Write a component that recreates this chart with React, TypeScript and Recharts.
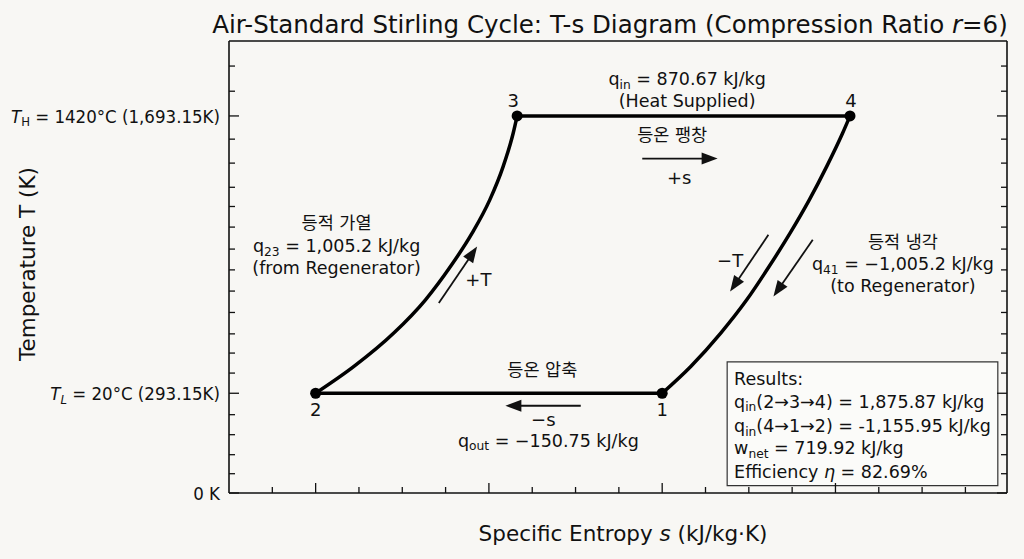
import React from "react";
import {
  ComposedChart,
  Line,
  Scatter,
  XAxis,
  YAxis,
  ReferenceDot,
  ReferenceLine,
  ReferenceArea,
  Label,
} from "recharts";

const FONT = "'DejaVu Sans', 'Noto Sans CJK KR', sans-serif";
const FONT_NARROW = "'DejaVu Sans Condensed', 'DejaVu Sans', sans-serif";
const INK = "#111";
const PAPER = "#f8f7f4";

// state points (s in schematic units, T in K)
const pointLabels = ["1", "2", "3", "4"];
const pointS = [2.0, 0, 1.163, 3.084];
const pointT = [293.15, 293.15, 1693.15, 1693.15];

// 2 -> 3 constant-volume heating
const heatS = [0, 0.221, 0.451, 0.634, 0.778, 0.903, 1.005, 1.082, 1.14, 1.163];
const heatT = [293.15, 428.3, 596.8, 764.8, 932.8, 1101.3, 1269.4, 1437.4, 1605.9, 1693.15];

// 4 -> 1 constant-volume cooling (listed by rising s)
const coolS = [2.0, 2.165, 2.338, 2.488, 2.617, 2.738, 2.849, 2.949, 3.041, 3.084];
const coolT = [293.15, 428.3, 596.8, 764.8, 932.8, 1101.3, 1269.4, 1437.4, 1605.9, 1693.15];

// isotherms
const expandS = [1.163, 3.084];
const expandT = [1693.15, 1693.15];
const compressS = [0, 2.0];
const compressT = [293.15, 293.15];

// axis ticks
const xDomain = [-0.5, 3.99];
const yDomain = [-210.4, 2071.5];
const bottomTicks = [-0.25, 0, 0.25, 0.5, 0.75, 1, 1.25, 1.5, 1.75, 2, 2.25, 2.5, 2.75, 3, 3.25, 3.5, 3.75];
const bottomMajor = [0, 1, 2, 3];
const topTicks = [-0.294, -0.092, 0.01, 0.133, 0.242, 0.346, 0.524, 0.703, 0.836, 0.939, 1.024, 1.249, 1.466, 1.677, 1.896, 2.238, 2.45, 2.651, 2.863, 3.08, 3.33, 3.56, 3.775];
const topMajor = [0.133, 1.024, 2.238, 3.08];
const sideTicks = [-210.4, -113, -17, 84, 185, 293.15, 395, 496, 593, 701, 809, 916, 1021, 1132, 1236, 1333, 1455, 1576, 1693.15, 1818, 1945];
const sideMajor = [-210.4, 293.15, 1693.15];
const yLabelValues = [1693.15, 293.15, -210.4];
const yLabelTexts = ["$T$_{H} = 1420°C (1,693.15K)", "$T$_{~L} = 20°C (293.15K)", "0 K"];

// annotations
const noteS = [2.144, 2.144, 2.058, 2.098, 0.121, 0.121, 0.121, 0.939, 3.389, 3.389, 3.389, 2.392, 1.308, 1.314, 1.343];
const noteT = [1880, 1771, 1597.3, 1380.3, 1151.8, 1037.3, 927.8, 865.7, 1057.5, 946.5, 835.5, 961.6, 411.7, 163, 55];
const noteTexts = [
  "q_{in} = 870.67 kJ/kg",
  "(Heat Supplied)",
  "등온 팽창",
  "+s",
  "등적 가열",
  "q_{23} = 1,005.2 kJ/kg",
  "(from Regenerator)",
  "+T",
  "등적 냉각",
  "q_{41} = −1,005.2 kJ/kg",
  "(to Regenerator)",
  "−T",
  "등온 압축",
  "−s",
  "q_{out} = −150.75 kJ/kg",
];

// direction arrows: [s0, T0, s1, T1]
const arrows = [
  [1.885, 1477.7, 2.32, 1477.7],
  [0.711, 748.2, 0.932, 1033.7],
  [2.613, 1092.8, 2.392, 806.7],
  [2.869, 1067.6, 2.642, 781.5],
  [1.53, 230, 1.095, 230],
];

// results box
const resultBox = [2.375, 3.937, -173.6, 452];
const resultS = 2.415;
const resultT = [366.3, 251.8, 129, 16.6, -101.4];
const resultLines = [
  "Results:",
  "q_{in}(2→3→4) = 1,875.87 kJ/kg",
  "q_{in}(4→1→2) = -1,155.95 kJ/kg",
  "w_{net} = 719.92 kJ/kg",
  "Efficiency $η$ = 82.69%",
];

const zipST = (s: number[], t: number[]) => s.map((v, i) => ({ s: v, T: t[i] }));
const heatData = zipST(heatS, heatT);
const coolData = zipST(coolS, coolT);
const expandData = zipST(expandS, expandT);
const compressData = zipST(compressS, compressT);
const stateData = pointS.map((v, i) => ({ s: v, T: pointT[i], label: pointLabels[i] }));

// label offsets for state points 1..4
const labelDx = [0, 0, -4, 1];
const labelDy = [23, 23, -9, -9];

// "_{x}" subscript, "_{~x}" italic subscript, "$x$" italic
function rich(src: string, fs: number) {
  const out: React.ReactNode[] = [];
  const re = /_\{([^}]*)\}|\$([^$]*)\$|([^_$]+)/g;
  let m: RegExpExecArray | null;
  let k = 0;
  let shifted = false;
  const drop = fs * 0.2;
  while ((m = re.exec(src))) {
    if (m[1] !== undefined) {
      const it = m[1].startsWith("~");
      out.push(
        <tspan key={k++} fontSize={fs * 0.7} dy={drop} fontStyle={it ? "italic" : undefined}>
          {it ? m[1].slice(1) : m[1]}
        </tspan>
      );
      shifted = true;
    } else {
      const it = m[2] !== undefined;
      out.push(
        <tspan key={k++} dy={shifted ? -drop : undefined} fontStyle={it ? "italic" : undefined}>
          {it ? m[2] : m[3]}
        </tspan>
      );
      shifted = false;
    }
  }
  return out;
}

function Txt({ x, y, text, fs = 17.5, anchor = "middle", family = FONT }: any) {
  return (
    <text x={x} y={y + fs * 0.36} textAnchor={anchor} fontSize={fs} fontFamily={family} fill={INK}>
      {rich(text, fs)}
    </text>
  );
}

const LeftTick = (p: any) => {
  const v = p.payload.value;
  const len = sideMajor.includes(v) ? 10 : 6;
  const li = yLabelValues.indexOf(v);
  return (
    <g>
      <line x1={p.x} y1={p.y} x2={p.x + len} y2={p.y} stroke={INK} strokeWidth={1.3} />
      {li >= 0 && <Txt x={p.x - 9} y={p.y} text={yLabelTexts[li]} fs={18.5} anchor="end" family={FONT_NARROW} />}
    </g>
  );
};

const RightTick = (p: any) => {
  const len = sideMajor.includes(p.payload.value) ? 10 : 6;
  return <line x1={p.x} y1={p.y} x2={p.x - len} y2={p.y} stroke={INK} strokeWidth={1.3} />;
};

const BottomTick = (p: any) => {
  const len = bottomMajor.includes(p.payload.value) ? 10 : 6;
  return <line x1={p.x} y1={p.y} x2={p.x} y2={p.y - len} stroke={INK} strokeWidth={1.3} />;
};

const TopTick = (p: any) => {
  const len = topMajor.includes(p.payload.value) ? 10 : 6;
  return <line x1={p.x} y1={p.y} x2={p.x} y2={p.y + len} stroke={INK} strokeWidth={1.3} />;
};

const ArrowShape = (p: any) => {
  const { x1, y1, x2, y2 } = p;
  const dx = x2 - x1;
  const dy = y2 - y1;
  const len = Math.hypot(dx, dy) || 1;
  const ux = dx / len;
  const uy = dy / len;
  const hl = 16;
  const hw = 6;
  const bx = x2 - ux * hl;
  const by = y2 - uy * hl;
  return (
    <g>
      <line x1={x1} y1={y1} x2={bx + ux * 2} y2={by + uy * 2} stroke={INK} strokeWidth={1.8} />
      <polygon points={`${x2},${y2} ${bx - uy * hw},${by + ux * hw} ${bx + uy * hw},${by - ux * hw}`} fill={INK} />
    </g>
  );
};

const StateDot = (p: any) => {
  const i = pointLabels.indexOf(p.payload.label);
  return (
    <g>
      <circle cx={p.cx} cy={p.cy} r={5.5} fill="#000" />
      <text x={p.cx + labelDx[i]} y={p.cy + labelDy[i]} textAnchor="middle" fontSize={18} fontFamily={FONT} fill={INK}>
        {p.payload.label}
      </text>
    </g>
  );
};

const axisLine = { stroke: INK, strokeWidth: 1.6 };

export default function App() {
  return (
    <div style={{ position: "fixed", left: 0, top: 0, width: 1024, height: 559, background: PAPER }}>
      <ComposedChart width={1024} height={559} margin={{ top: 40, right: 16, bottom: 65, left: 228 }}>
        <XAxis
          type="number"
          dataKey="s"
          domain={xDomain}
          allowDataOverflow
          ticks={bottomTicks}
          interval={0}
          tickSize={0}
          tickMargin={0}
          tick={BottomTick}
          height={1}
          axisLine={axisLine}
        >
          <Label
            content={(lp: any) => (
              <Txt
                x={lp.viewBox.x + lp.viewBox.width / 2 + 5}
                y={lp.viewBox.y + 40}
                text="Specific Entropy $s$ (kJ/kg·K)"
                fs={21.5}
              />
            )}
          />
        </XAxis>
        <XAxis
          xAxisId="top"
          orientation="top"
          type="number"
          domain={xDomain}
          allowDataOverflow
          ticks={topTicks}
          interval={0}
          tickSize={0}
          tickMargin={0}
          tick={TopTick}
          height={1}
          axisLine={axisLine}
        >
          <Label
            content={(lp: any) => (
              <Txt
                x={lp.viewBox.x + lp.viewBox.width / 2 - 8}
                y={lp.viewBox.y - 16}
                text="Air-Standard Stirling Cycle: T-s Diagram (Compression Ratio $r$=6)"
                fs={24.5}
              />
            )}
          />
        </XAxis>
        <YAxis
          type="number"
          dataKey="T"
          domain={yDomain}
          allowDataOverflow
          ticks={sideTicks}
          interval={0}
          tickSize={0}
          tickMargin={0}
          tick={LeftTick}
          width={1}
          axisLine={axisLine}
        >
          <Label
            content={(lp: any) => {
              const cx = lp.viewBox.x - 201;
              const cy = lp.viewBox.y + lp.viewBox.height / 2 - 3;
              return (
                <g transform={`rotate(-90, ${cx}, ${cy})`}>
                  <Txt x={cx} y={cy} text="Temperature T (K)" fs={21.5} />
                </g>
              );
            }}
          />
        </YAxis>
        <YAxis
          yAxisId="right"
          orientation="right"
          type="number"
          domain={yDomain}
          allowDataOverflow
          ticks={sideTicks}
          interval={0}
          tickSize={0}
          tickMargin={0}
          tick={RightTick}
          width={1}
          axisLine={axisLine}
        />

        <ReferenceArea
          x1={resultBox[0]}
          x2={resultBox[1]}
          y1={resultBox[2]}
          y2={resultBox[3]}
          fill="#fbfbf9"
          fillOpacity={1}
          stroke="#333"
          strokeWidth={1.2}
        />

        <Line data={compressData} dataKey="T" type="linear" stroke="#000" strokeWidth={3.5} dot={false} activeDot={false} isAnimationActive={false} />
        <Line data={heatData} dataKey="T" type="monotone" stroke="#000" strokeWidth={3.5} dot={false} activeDot={false} isAnimationActive={false} />
        <Line data={expandData} dataKey="T" type="linear" stroke="#000" strokeWidth={3.5} dot={false} activeDot={false} isAnimationActive={false} />
        <Line data={coolData} dataKey="T" type="monotone" stroke="#000" strokeWidth={3.5} dot={false} activeDot={false} isAnimationActive={false} />
        <Scatter data={stateData} dataKey="T" shape={StateDot} isAnimationActive={false} />

        {arrows.map((a, i) => (
          <ReferenceLine
            key={`a${i}`}
            segment={[
              { x: a[0], y: a[1] },
              { x: a[2], y: a[3] },
            ]}
            shape={ArrowShape}
          />
        ))}

        {noteTexts.map((t, i) => (
          <ReferenceDot
            key={`n${i}`}
            x={noteS[i]}
            y={noteT[i]}
            r={0}
            shape={(p: any) => <Txt x={p.cx} y={p.cy} text={t} fs={t.length <= 2 ? 18 : 17.5} />}
          />
        ))}

        {resultLines.map((t, i) => (
          <ReferenceDot
            key={`r${i}`}
            x={resultS}
            y={resultT[i]}
            r={0}
            shape={(p: any) => <Txt x={p.cx} y={p.cy} text={t} fs={17.5} anchor="start" />}
          />
        ))}
      </ComposedChart>
    </div>
  );
}
